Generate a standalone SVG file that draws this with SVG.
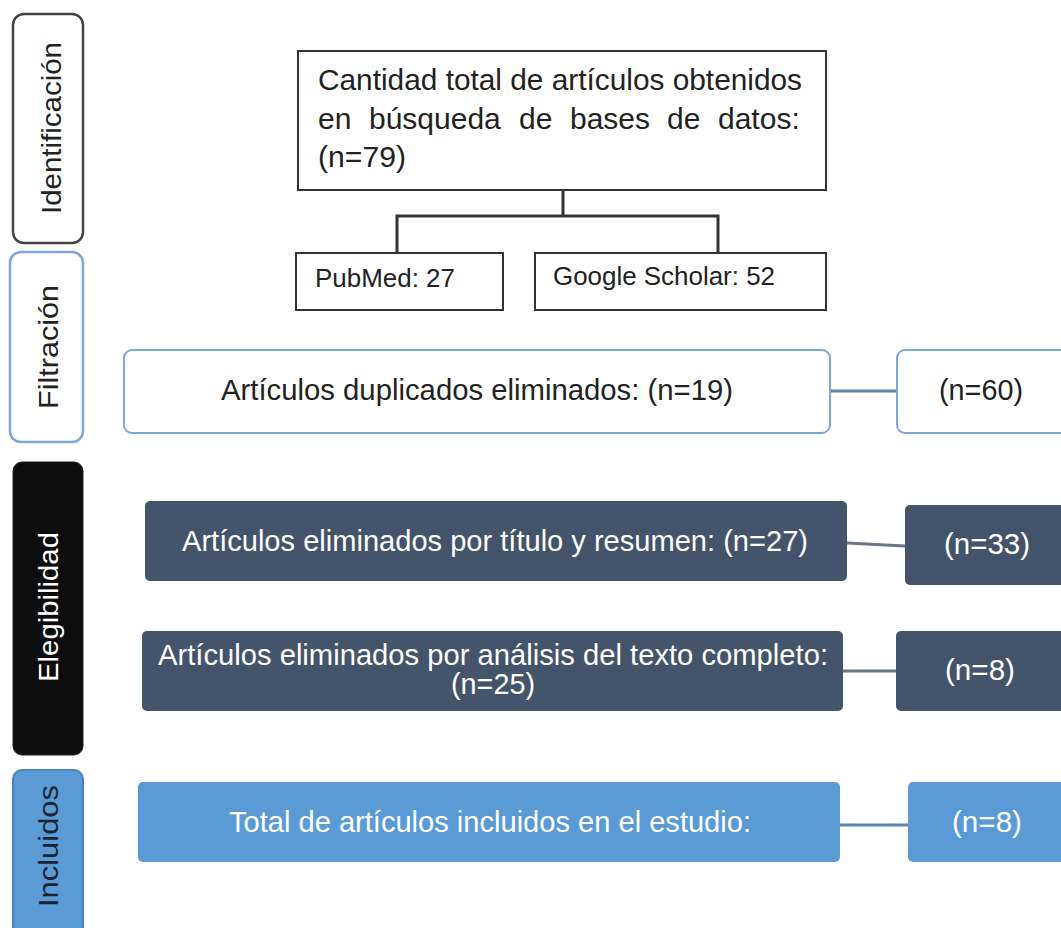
<svg xmlns="http://www.w3.org/2000/svg" width="1061" height="928" viewBox="0 0 1061 928">
<style>
text{font-family:"Liberation Sans",Arial,sans-serif}
.side{font-size:28px;text-anchor:middle}
.bx{fill:#fff;stroke:#333;stroke-width:2}
.t{font-size:30px;fill:#222}
.row{font-size:29px;text-anchor:middle}
.dark{fill:#44546a}
.blue{fill:#5b9bd5}
.w{fill:#fff}
.conn{fill:none;stroke-width:3}
</style>
<rect width="1061" height="928" fill="#fff"/>
<g id="side-identificacion">
<rect x="13" y="14" width="70" height="229" rx="11" fill="#fff" stroke="#444" stroke-width="2.5"/>
<text class="side" fill="#222" transform="translate(61,128) rotate(-90)" textLength="172" lengthAdjust="spacingAndGlyphs">Identificación</text>
</g>
<g id="side-filtracion">
<rect x="10" y="252" width="73" height="190" rx="11" fill="#fff" stroke="#7ea6e0" stroke-width="2.5"/>
<text class="side" fill="#222" transform="translate(58,347) rotate(-90)" textLength="124" lengthAdjust="spacingAndGlyphs">Filtración</text>
</g>
<g id="side-elegibilidad">
<rect x="13" y="462" width="70" height="293" rx="9" fill="#0d0d0d" stroke="#222" stroke-width="1"/>
<text class="side" fill="#fff" transform="translate(58,607) rotate(-90)" textLength="150" lengthAdjust="spacingAndGlyphs">Elegibilidad</text>
</g>
<g id="side-incluidos">
<rect x="13" y="770" width="70" height="170" rx="9" fill="#5b9bd5" stroke="#4a84bd" stroke-width="2"/>
<text class="side" fill="#1a2436" transform="translate(58,846) rotate(-90)" textLength="122" lengthAdjust="spacingAndGlyphs">Incluidos</text>
</g>
<g id="connectors">
<polyline class="conn" stroke="#333" stroke-width="2" points="563,190 563,216"/>
<polyline class="conn" stroke="#333" stroke-width="2" points="397,253 397,216 718,216 718,253"/>
<line class="conn" stroke="#5a80ad" x1="830" y1="391" x2="898" y2="391"/>
<line class="conn" stroke="#6b7785" x1="847" y1="543" x2="905" y2="546"/>
<line class="conn" stroke="#6b7785" x1="843" y1="671" x2="896" y2="671"/>
<line class="conn" stroke="#5a86b4" x1="840" y1="825" x2="908" y2="825"/>
</g>
<g id="total">
<rect class="bx" x="298" y="51" width="528" height="139"/>
<text class="t" x="318" y="90" textLength="484" lengthAdjust="spacingAndGlyphs">Cantidad total de artículos obtenidos</text>
<text class="t" y="129"><tspan x="318">en</tspan><tspan x="369">búsqueda</tspan><tspan x="519">de</tspan><tspan x="570">bases</tspan><tspan x="667">de</tspan><tspan x="718">datos:</tspan></text>
<text class="t" x="318" y="167" textLength="88" lengthAdjust="spacingAndGlyphs">(n=79)</text>
</g>
<g id="pubmed">
<rect class="bx" x="296" y="253" width="207" height="57"/>
<text x="315" y="287" font-size="25" fill="#222" textLength="140" lengthAdjust="spacingAndGlyphs">PubMed: 27</text>
</g>
<g id="scholar">
<rect class="bx" x="535" y="253" width="291" height="57"/>
<text x="553" y="285" font-size="25" fill="#222" textLength="222" lengthAdjust="spacingAndGlyphs">Google Scholar: 52</text>
</g>
<g id="duplicados">
<rect x="124" y="350" width="706" height="83" rx="8" fill="#fff" stroke="#7ea6e0" stroke-width="2"/>
<text class="row" x="477" y="400" fill="#222" textLength="512" lengthAdjust="spacingAndGlyphs">Artículos duplicados eliminados: (n=19)</text>
</g>
<g id="n60">
<rect x="897" y="350" width="175" height="83" rx="8" fill="#fff" stroke="#7ea6e0" stroke-width="2"/>
<text class="row" x="981" y="400" fill="#222" textLength="84" lengthAdjust="spacingAndGlyphs">(n=60)</text>
</g>
<g id="titulo">
<rect class="dark" x="145" y="501" width="702" height="80" rx="5"/>
<text class="row w" x="495" y="551" textLength="626" lengthAdjust="spacingAndGlyphs">Artículos eliminados por título y resumen: (n=27)</text>
</g>
<g id="n33">
<rect class="dark" x="905" y="505" width="167" height="80" rx="5"/>
<text class="row w" x="987" y="554" textLength="86" lengthAdjust="spacingAndGlyphs">(n=33)</text>
</g>
<g id="texto">
<rect class="dark" x="142" y="631" width="701" height="80" rx="5"/>
<text class="row w" x="493" y="665" textLength="670" lengthAdjust="spacingAndGlyphs">Artículos eliminados por análisis del texto completo:</text>
<text class="row w" x="493" y="694" textLength="84" lengthAdjust="spacingAndGlyphs">(n=25)</text>
</g>
<g id="n8a">
<rect class="dark" x="896" y="631" width="176" height="80" rx="5"/>
<text class="row w" x="980" y="680" textLength="70" lengthAdjust="spacingAndGlyphs">(n=8)</text>
</g>
<g id="incluidos">
<rect class="blue" x="138" y="782" width="702" height="80" rx="5"/>
<text class="row w" x="490" y="832" textLength="522" lengthAdjust="spacingAndGlyphs">Total de artículos incluidos en el estudio:</text>
</g>
<g id="n8b">
<rect class="blue" x="908" y="782" width="164" height="80" rx="5"/>
<text class="row w" x="987" y="832" textLength="70" lengthAdjust="spacingAndGlyphs">(n=8)</text>
</g>
</svg>
